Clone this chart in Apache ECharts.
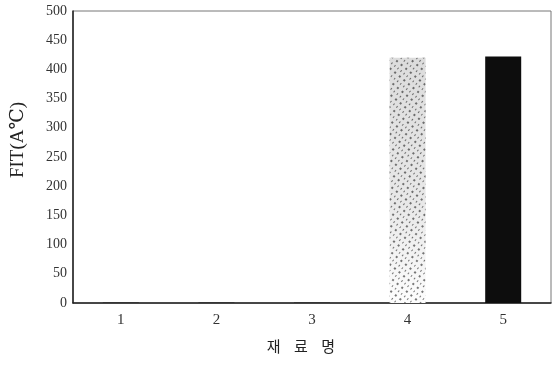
<!DOCTYPE html>
<html>
<head>
<meta charset="utf-8">
<script src="https://cdn.jsdelivr.net/npm/echarts@6/dist/echarts.min.js"></script>
<style>
  html, body { margin: 0; padding: 0; background: #fff; }
  #chart { width: 556px; height: 367px; }
</style>
</head>
<body>
<div id="chart"></div>
<script>
// 재료명 (material) categories and FIT values
const categories = ["1", "2", "3", "4", "5"];
const fitValues = [1, 1, 1, 420, 422];
const yTicks = { min: 0, max: 500, interval: 50 };

const myChart = echarts.init(document.getElementById("chart"));

const serif = "'Liberation Serif', 'DejaVu Serif', serif";

// bar 4 is a dotted grey screen, bar 5 solid black, the rest just hug the baseline
const barStyles = [
  { color: "#222" },
  { color: "#222" },
  { color: "#222" },
  {
    color: new echarts.graphic.LinearGradient(0, 0, 0, 1, [
      { offset: 0, color: "#dcdcdc" },
      { offset: 0.6, color: "#e8e8e8" },
      { offset: 1, color: "#fdfdfd" }
    ]),
    decal: {
      symbol: "rect",
      symbolSize: 1,
      dashArrayX: [[1, 3], [2, 4]],
      dashArrayY: [2, 3],
      rotation: 0.7,
      color: "rgba(30,30,30,0.6)"
    }
  },
  { color: "#0d0d0d" }
];

const seriesData = fitValues.map(function (v, i) {
  return { value: v, itemStyle: barStyles[i] };
});

const option = {
  animation: false,
  grid: {
    left: 73,
    right: 5,
    top: 11,
    bottom: 64,
    outerBoundsMode: "none",
    show: true,
    borderColor: "#777",
    borderWidth: 1
  },
  xAxis: {
    type: "category",
    data: categories,
    axisTick: { show: false },
    axisLine: { lineStyle: { color: "#222", width: 1.5 } },
    axisLabel: {
      margin: 10,
      fontFamily: serif,
      fontSize: 15,
      color: "#333"
    },
    name: "재    료    명",
    nameLocation: "middle",
    nameGap: 36,
    nameTextStyle: {
      fontFamily: "'Noto Sans CJK KR', sans-serif",
      fontSize: 15,
      color: "#222",
      padding: [0, 22, 0, 0]
    }
  },
  yAxis: {
    type: "value",
    min: yTicks.min,
    max: yTicks.max,
    interval: yTicks.interval,
    axisLine: { show: true, lineStyle: { color: "#222", width: 1.5 } },
    axisTick: { show: false },
    splitLine: { show: false },
    axisLabel: {
      margin: 6,
      fontFamily: serif,
      fontSize: 14,
      color: "#333"
    },
    name: "FIT(A℃)",
    nameLocation: "middle",
    nameGap: 45,
    nameRotate: 90,
    nameTextStyle: {
      fontFamily: serif,
      fontSize: 19,
      color: "#222",
      padding: [0, 0, 0, 34]
    }
  },
  series: [
    {
      type: "bar",
      data: seriesData,
      barWidth: 36
    }
  ]
};

myChart.setOption(option);
window.addEventListener("resize", function () {
  myChart.resize();
});
</script>
</body>
</html>
